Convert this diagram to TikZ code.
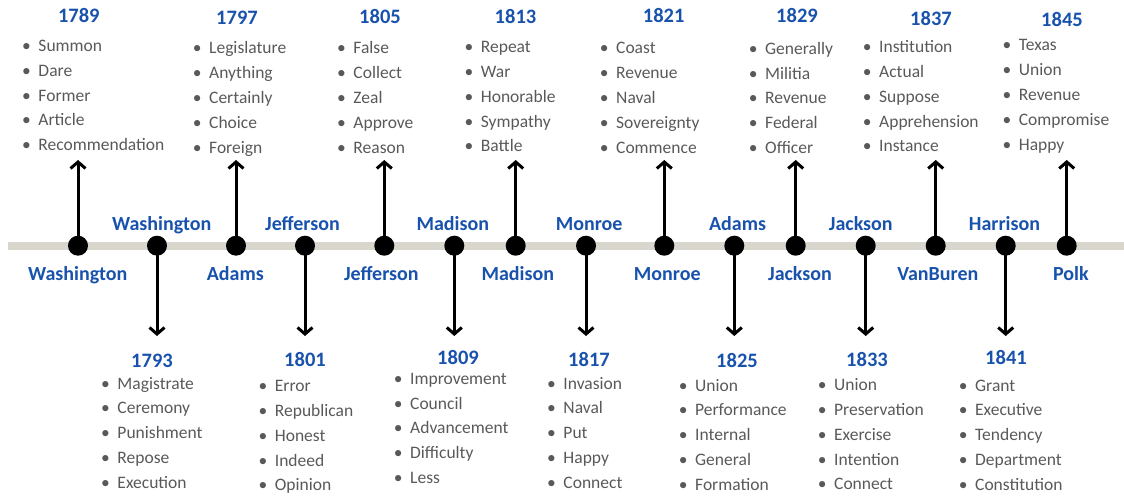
\documentclass[tikz,border=0pt]{standalone}
\usepackage{fontspec}
\setmainfont{Carlito}
\usetikzlibrary{arrows.meta}
\definecolor{tblue}{RGB}{24,82,173}
\definecolor{tgray}{RGB}{89,89,89}
\definecolor{tline}{RGB}{217,214,206}
\begin{document}
\begin{tikzpicture}[x=1pt,y=-1pt,
  yr/.style={font=\fontsize{20.5}{24}\selectfont\bfseries, text=tblue, inner sep=0, anchor=base},
  nm/.style={font=\fontsize{20}{24}\selectfont\bfseries, text=tblue, inner sep=0, anchor=base},
  itemtxt/.style={font=\fontsize{17.5}{21}\selectfont, text=tgray, inner sep=0, anchor=base west},
  dot/.style={circle, fill=black, minimum size=20pt, inner sep=0},
  arr/.style={line width=3pt, -{Straight Barb[length=6.5pt,width=15pt,line width=3pt]}},
  axis/.style={tline, line width=8pt}]
\useasboundingbox (0,0) rectangle (1124,497);
\coordinate (ls) at (8,245.7);
\coordinate (le) at (1124,245.7);
\draw[axis] (ls) -- (le);
% up events: id / dot x / name x / name / year / year x / year base / list x / list base / items
\foreach \id/\dx/\nx/\nam/\yrt/\yx/\yb/\lx/\lb/\items in {
  u1/78/77.8/Washington/1789/78.8/22.7/38.3/51.5/{Summon,Dare,Former,Article,Recommendation},
  u2/236/235.3/Adams/1797/237/24.3/209/54/{Legislature,Anything,Certainly,Choice,Foreign},
  u3/384.3/381.3/Jefferson/1805/380/23.3/353.3/54/{False,Collect,Zeal,Approve,Reason},
  u4/515.7/517.8/Madison/1813/515.5/23.3/480.7/52.7/{Repeat,War,Honorable,Sympathy,Battle},
  u5/664.3/667.3/Monroe/1821/663.7/22.7/616/54/{Coast,Revenue,Naval,Sovereignty,Commence},
  u6/795.7/800/Jackson/1829/797/22.7/765/54.3/{Generally,Militia,Revenue,Federal,Officer},
  u7/935.7/937.8/VanBuren/1837/931/26/879/52.7/{Institution,Actual,Suppose,Apprehension,Instance},
  u8/1066.7/1070.8/Polk/1845/1062/26.7/1018.7/51/{Texas,Union,Revenue,Compromise,Happy}}
{
  \coordinate (\id-c) at (\dx,245.7);
  \coordinate (\id-t) at (\dx,160);
  \draw[arr] (\id-c) -- (\id-t);
  \node[dot] (\id-d) at (\id-c) {};
  \node[nm] (\id-n) at (\nx,280.5) {\nam};
  \node[yr] (\id-y) at (\yx,\yb) {\yrt};
  \foreach \w [count=\i] in \items {
    \node[itemtxt] (\id-\i) at (\lx,{\lb+(\i-1)*24.8}) {\llap{\makebox[24pt][c]{•}}\w};
  }
}
% down events
\foreach \id/\dx/\nx/\nam/\yrt/\yx/\yb/\lx/\lb/\items in {
  d1/157/161.7/Washington/1793/152/367.3/117.3/389/{Magistrate,Ceremony,Punishment,Repose,Execution},
  d2/305/302.5/Jefferson/1801/305/366.7/274.7/391.7/{Error,Republican,Honest,Indeed,Opinion},
  d3/454.3/452.8/Madison/1809/458/364.3/410/384.3/{Improvement,Council,Advancement,Difficulty,Less},
  d4/586/589.2/Monroe/1817/589/366.7/563.3/389/{Invasion,Naval,Put,Happy,Connect},
  d5/734.3/737.5/Adams/1825/737/367.3/695/391/{Union,Performance,Internal,General,Formation},
  d6/865.7/860.8/Jackson/1833/867/366/834/390.7/{Union,Preservation,Exercise,Intention,Connect},
  d7/1005.7/1004.5/Harrison/1841/1006/364.3/975/391/{Grant,Executive,Tendency,Department,Constitution}}
{
  \coordinate (\id-c) at (\dx,245.7);
  \coordinate (\id-t) at (\dx,336);
  \draw[arr] (\id-c) -- (\id-t);
  \node[dot] (\id-d) at (\id-c) {};
  \node[nm] (\id-n) at (\nx,230) {\nam};
  \node[yr] (\id-y) at (\yx,\yb) {\yrt};
  \foreach \w [count=\i] in \items {
    \node[itemtxt] (\id-\i) at (\lx,{\lb+(\i-1)*24.8}) {\llap{\makebox[24pt][c]{•}}\w};
  }
}
\end{tikzpicture}
\end{document}
